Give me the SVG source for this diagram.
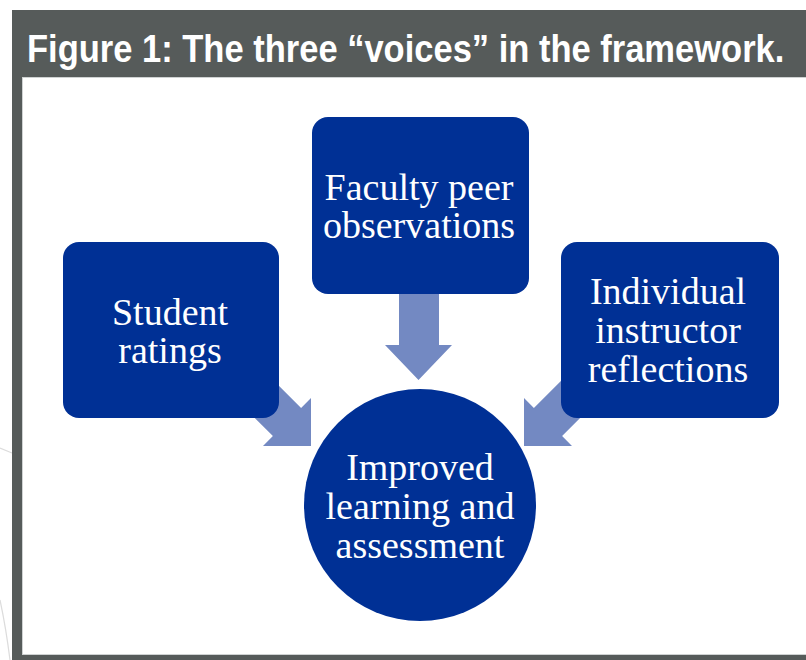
<svg xmlns="http://www.w3.org/2000/svg" width="806" height="660" viewBox="0 0 806 660">
  <style>
    .frame { fill: #565b5a; }
    .panel { fill: #ffffff; stroke: #cfd2d2; stroke-width: 1; }
    .title { font-family: "Liberation Sans", Arial, sans-serif; font-weight: bold; font-size: 39px; fill: #ffffff; }
    .box { fill: #003095; }
    .arrow { fill: #7389c2; }
    .label { font-family: "Liberation Serif", "Times New Roman", serif; font-size: 38px; fill: #ffffff; text-anchor: middle; }
    .faint { fill: none; stroke: #dcdcdc; stroke-width: 1.2; }
  </style>

  <rect width="806" height="660" fill="#ffffff"/>

  <!-- faint background strokes outside the frame -->
  <path class="faint" d="M0,448 L12,453"/>
  <path class="faint" d="M0,600 Q6,628 10,660"/>

  <!-- frame and title bar -->
  <rect class="frame" x="12" y="10" width="794" height="650"/>
  <rect class="panel" x="22.5" y="77.5" width="784" height="577"/>
  <!-- title set in a horizontally condensed bold sans -->
  <text class="title" transform="translate(27,62) scale(0.885,1)" x="0" y="0">Figure 1: The three “voices” in the framework.</text>

  <!-- connectors (block arrows) -->
  <g id="connectors">
    <polygon class="arrow" points="264.1,370.9 301.1,407.9 311,398 311,446 263,446 272.9,436.1 235.9,399.1"/>
    <polygon class="arrow" points="399,280 439,280 439,345 452,345 418.5,380 385,345 399,345"/>
    <polygon class="arrow" points="570.9,370.9 533.9,407.9 524,398 524,446 572,446 562.1,436.1 599.1,399.1"/>
  </g>

  <g id="student-ratings">
    <rect class="box" x="63" y="242" width="216" height="176" rx="16" ry="16"/>
    <text class="label" x="170" y="325">Student</text>
    <text class="label" x="170" y="363">ratings</text>
  </g>

  <g id="faculty-peer-observations">
    <rect class="box" x="312" y="117" width="217" height="177" rx="16" ry="16"/>
    <text class="label" x="419" y="200">Faculty peer</text>
    <text class="label" x="419" y="238">observations</text>
  </g>

  <g id="individual-instructor-reflections">
    <rect class="box" x="561" y="242" width="218" height="176" rx="16" ry="16"/>
    <text class="label" x="668" y="304">Individual</text>
    <text class="label" x="668" y="343">instructor</text>
    <text class="label" x="668" y="382">reflections</text>
  </g>

  <g id="improved-learning">
    <circle class="box" cx="420" cy="505" r="116"/>
    <text class="label" x="420" y="480">Improved</text>
    <text class="label" x="420" y="519">learning and</text>
    <text class="label" x="420" y="558">assessment</text>
  </g>
</svg>
